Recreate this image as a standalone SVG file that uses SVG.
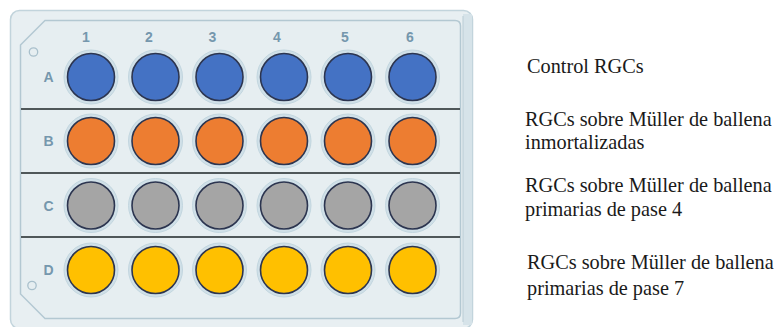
<svg xmlns="http://www.w3.org/2000/svg" width="774" height="327" viewBox="0 0 774 327">
  <style>
    .lbl { font-family: "Liberation Sans", Arial, sans-serif; font-size: 14px; font-weight: bold; fill: #7597ad; text-anchor: middle; }
    .txt { font-family: "Liberation Serif", "Times New Roman", "DejaVu Serif", serif; font-size: 20.3px; fill: #1a1a1a; }
    .halo { fill: #d0e0e8; stroke: #c2d6df; stroke-width: 1; }
    .well { stroke: #2c3550; stroke-width: 1.6; }
    .a { fill: #4472c4; }
    .b { fill: #ed7d31; }
    .c { fill: #a5a5a5; }
    .d { fill: #ffc000; }
    .sep { stroke: #4f5759; stroke-width: 2.2; }
    .mark { fill: none; stroke: #a9c0cc; stroke-width: 1.3; }
  </style>
  <defs>
    <g id="halo"><circle r="27" class="halo"/></g>
  </defs>
  <rect width="774" height="327" fill="#ffffff"/>

  <!-- plate body -->
  <g id="plate">
    <rect x="10.5" y="10.5" width="462" height="318" rx="9" fill="#e8eff2" stroke="#c2d4dc" stroke-width="1.5"/>
    <rect x="463" y="14" width="9" height="311" fill="#d6e3e9"/>
    <line x1="463" y1="16" x2="463" y2="322" stroke="#b9ccd5" stroke-width="1"/>
    <path d="M20.5 45 L45 20.5 H455 Q460.5 20.5 460.5 26 V313 Q460.5 318.5 455 318.5 H45 L20.5 294 Z" fill="#e6eef1" stroke="#b3c8d2" stroke-width="1.5"/>
    <circle cx="33.5" cy="52" r="4.2" class="mark"/>
    <circle cx="32" cy="285.5" r="4.2" class="mark"/>
  </g>

  <!-- row separators -->
  <g id="separators">
    <line x1="21" y1="109" x2="460" y2="109" class="sep"/>
    <line x1="21" y1="173" x2="460" y2="173" class="sep"/>
    <line x1="21" y1="237" x2="460" y2="237" class="sep"/>
  </g>

  <!-- column and row labels -->
  <g id="labels">
    <text x="86" y="42" class="lbl">1</text>
    <text x="149" y="42" class="lbl">2</text>
    <text x="212.5" y="42" class="lbl">3</text>
    <text x="277" y="42" class="lbl">4</text>
    <text x="345" y="42" class="lbl">5</text>
    <text x="410" y="42" class="lbl">6</text>
    <text x="48.5" y="82" class="lbl">A</text>
    <text x="48.5" y="146" class="lbl">B</text>
    <text x="48.5" y="210.5" class="lbl">C</text>
    <text x="48.5" y="275" class="lbl">D</text>
  </g>

  <!-- row A -->
  <g id="row-A">
    <use href="#halo" x="91" y="77"/><circle cx="91" cy="77" r="23.5" class="well a"/>
    <use href="#halo" x="155.5" y="77"/><circle cx="155.5" cy="77" r="23.5" class="well a"/>
    <use href="#halo" x="219.5" y="77"/><circle cx="219.5" cy="77" r="23.5" class="well a"/>
    <use href="#halo" x="284" y="77"/><circle cx="284" cy="77" r="23.5" class="well a"/>
    <use href="#halo" x="348" y="77"/><circle cx="348" cy="77" r="23.5" class="well a"/>
    <use href="#halo" x="412.5" y="77"/><circle cx="412.5" cy="77" r="23.5" class="well a"/>
  </g>
  <!-- row B -->
  <g id="row-B">
    <use href="#halo" x="91" y="141"/><circle cx="91" cy="141" r="23.5" class="well b"/>
    <use href="#halo" x="155.5" y="141"/><circle cx="155.5" cy="141" r="23.5" class="well b"/>
    <use href="#halo" x="219.5" y="141"/><circle cx="219.5" cy="141" r="23.5" class="well b"/>
    <use href="#halo" x="284" y="141"/><circle cx="284" cy="141" r="23.5" class="well b"/>
    <use href="#halo" x="348" y="141"/><circle cx="348" cy="141" r="23.5" class="well b"/>
    <use href="#halo" x="412.5" y="141"/><circle cx="412.5" cy="141" r="23.5" class="well b"/>
  </g>
  <!-- row C -->
  <g id="row-C">
    <use href="#halo" x="91" y="205.5"/><circle cx="91" cy="205.5" r="23.5" class="well c"/>
    <use href="#halo" x="155.5" y="205.5"/><circle cx="155.5" cy="205.5" r="23.5" class="well c"/>
    <use href="#halo" x="219.5" y="205.5"/><circle cx="219.5" cy="205.5" r="23.5" class="well c"/>
    <use href="#halo" x="284" y="205.5"/><circle cx="284" cy="205.5" r="23.5" class="well c"/>
    <use href="#halo" x="348" y="205.5"/><circle cx="348" cy="205.5" r="23.5" class="well c"/>
    <use href="#halo" x="412.5" y="205.5"/><circle cx="412.5" cy="205.5" r="23.5" class="well c"/>
  </g>
  <!-- row D -->
  <g id="row-D">
    <use href="#halo" x="91" y="270"/><circle cx="91" cy="270" r="23.5" class="well d"/>
    <use href="#halo" x="155.5" y="270"/><circle cx="155.5" cy="270" r="23.5" class="well d"/>
    <use href="#halo" x="219.5" y="270"/><circle cx="219.5" cy="270" r="23.5" class="well d"/>
    <use href="#halo" x="284" y="270"/><circle cx="284" cy="270" r="23.5" class="well d"/>
    <use href="#halo" x="348" y="270"/><circle cx="348" cy="270" r="23.5" class="well d"/>
    <use href="#halo" x="412.5" y="270"/><circle cx="412.5" cy="270" r="23.5" class="well d"/>
  </g>

  <!-- legend -->
  <g id="legend-A"><text x="527" y="73" class="txt">Control RGCs</text></g>
  <g id="legend-B">
    <text x="525" y="126" class="txt">RGCs sobre Müller de ballena</text>
    <text x="525" y="149" class="txt">inmortalizadas</text>
  </g>
  <g id="legend-C">
    <text x="525" y="192" class="txt">RGCs sobre Müller de ballena</text>
    <text x="525" y="216" class="txt">primarias de pase 4</text>
  </g>
  <g id="legend-D">
    <text x="527" y="269" class="txt">RGCs sobre Müller de ballena</text>
    <text x="527" y="295" class="txt">primarias de pase 7</text>
  </g>
</svg>
